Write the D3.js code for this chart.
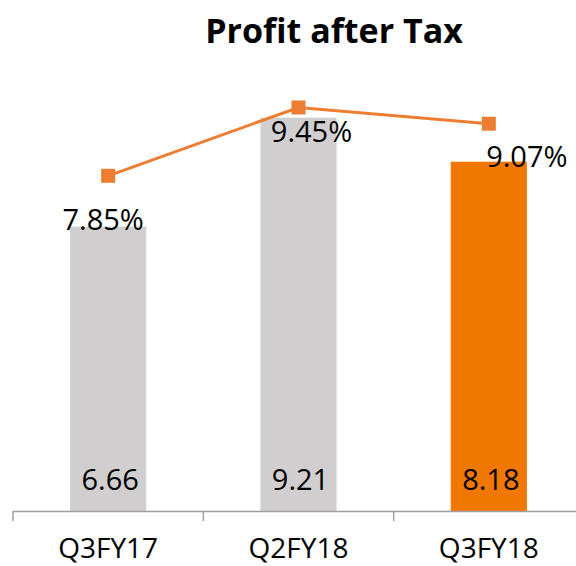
<!DOCTYPE html>
<html>
<head>
<meta charset="utf-8">
<script src="https://cdn.jsdelivr.net/npm/d3@7"></script>
<style>
  body { margin: 0; background: #ffffff; }
  svg { display: block; font-family: "Open Sans", "Noto Sans", sans-serif; }
</style>
</head>
<body>
<div id="main_output"></div>
<script>
// data
var quarters = ["Q3FY17", "Q2FY18", "Q3FY18"];
var profit = [6.66, 9.21, 8.18];          // bars
var margin_pct = [7.85, 9.45, 9.07];      // line, %

const bar_colour = "#d0cece";
const current_colour = "#f07800";
const line_colour = "#ed7d31";
const axis_colour = "#a0a0a0";

// label placement, Excel-style manual nudges (px from the marker)
var pct_nudge = [[-5, 54], [13, 35], [38, 43]];

var width = 576, height = 566;
var axis_y = 511;

var svg = d3.select("#main_output")
  .append("svg")
  .attr("width", width)
  .attr("height", height);

var x = d3.scaleBand()
  .domain(quarters)
  .range([13, 584])
  .paddingInner(0.6)
  .paddingOuter(0.3);

// bars and line share the same scale in the original
var y = d3.scaleLinear().domain([0, 10]).range([axis_y, 84]);

svg.append("text")
  .attr("x", 334)
  .attr("y", 43)
  .attr("text-anchor", "middle")
  .attr("font-size", "34px")
  .attr("font-weight", "bold")
  .text("Profit after Tax");

svg.selectAll(".bar")
  .data(profit)
  .enter()
  .append("rect")
  .attr("class", "bar")
  .attr("x", function(d, i) { return x(quarters[i]); })
  .attr("y", function(d) { return y(d); })
  .attr("width", x.bandwidth())
  .attr("height", function(d) { return y(0) - y(d); })
  .attr("fill", function(d, i) { return i === quarters.length - 1 ? current_colour : bar_colour; });

// axis line + ticks at band boundaries
svg.append("line")
  .attr("x1", 13).attr("x2", width)
  .attr("y1", axis_y + 0.5).attr("y2", axis_y + 0.5)
  .attr("stroke", axis_colour)
  .attr("stroke-width", 1.5);

svg.selectAll(".tick")
  .data(d3.range(quarters.length + 1))
  .enter()
  .append("line")
  .attr("class", "tick")
  .attr("x1", function(i) { return 13 + i * x.step(); })
  .attr("x2", function(i) { return 13 + i * x.step(); })
  .attr("y1", axis_y)
  .attr("y2", axis_y + 10)
  .attr("stroke", axis_colour)
  .attr("stroke-width", 1.5);

svg.selectAll(".cat")
  .data(quarters)
  .enter()
  .append("text")
  .attr("class", "cat")
  .attr("x", function(d) { return x(d) + x.bandwidth() / 2; })
  .attr("y", 558)
  .attr("text-anchor", "middle")
  .attr("font-size", "28px")
  .text(function(d) { return d; });

svg.selectAll(".val")
  .data(profit)
  .enter()
  .append("text")
  .attr("class", "val")
  .attr("x", function(d, i) { return x(quarters[i]) + x.bandwidth() / 2 + 2; })
  .attr("y", 490)
  .attr("text-anchor", "middle")
  .attr("font-size", "29px")
  .text(function(d) { return d.toFixed(2); });

var line = d3.line()
  .x(function(d, i) { return x(quarters[i]) + x.bandwidth() / 2; })
  .y(function(d) { return y(d); });

svg.append("path")
  .datum(margin_pct)
  .attr("fill", "none")
  .attr("stroke", line_colour)
  .attr("stroke-width", 3)
  .attr("d", line);

svg.selectAll(".marker")
  .data(margin_pct)
  .enter()
  .append("rect")
  .attr("class", "marker")
  .attr("x", function(d, i) { return x(quarters[i]) + x.bandwidth() / 2 - 7; })
  .attr("y", function(d) { return y(d) - 7; })
  .attr("width", 14)
  .attr("height", 14)
  .attr("fill", line_colour);

svg.selectAll(".pct")
  .data(margin_pct)
  .enter()
  .append("text")
  .attr("class", "pct")
  .attr("x", function(d, i) { return x(quarters[i]) + x.bandwidth() / 2 + pct_nudge[i][0]; })
  .attr("y", function(d, i) { return y(d) + pct_nudge[i][1]; })
  .attr("text-anchor", "middle")
  .attr("font-size", "29px")
  .text(function(d) { return d.toFixed(2) + "%"; });
</script>
</body>
</html>
